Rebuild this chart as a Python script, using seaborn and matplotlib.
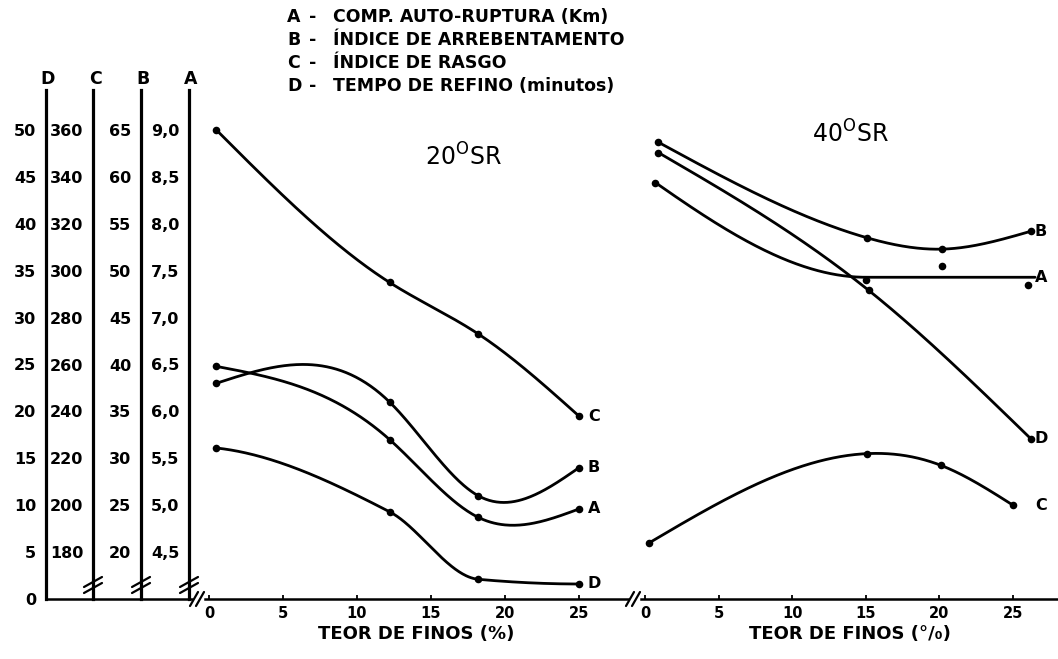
import numpy as np
import matplotlib
matplotlib.use("Agg")
import matplotlib.pyplot as plt
from matplotlib.lines import Line2D
import seaborn as sns

# ---------------- data ----------------
axis_letters = ["D", "C", "B", "A"]
D_ticks = [0, 5, 10, 15, 20, 25, 30, 35, 40, 45, 50]
C_ticks = [180, 200, 220, 240, 260, 280, 300, 320, 340, 360]
B_ticks = [20, 25, 30, 35, 40, 45, 50, 55, 60, 65]
A_ticks = [4.5, 5.0, 5.5, 6.0, 6.5, 7.0, 7.5, 8.0, 8.5, 9.0]
x_ticks = [0, 5, 10, 15, 20, 25]

legend_letters = ["A", "B", "C", "D"]
legend_texts = ["COMP. AUTO-RUPTURA (Km)", "ÍNDICE DE ARREBENTAMENTO",
                "ÍNDICE DE RASGO", "TEMPO DE REFINO (minutos)"]
panel_titles = [r"20$^{\mathrm{O}}$SR", r"40$^{\mathrm{O}}$SR"]
xlabels = ["TEOR DE FINOS (%)", "TEOR DE FINOS (°/₀)"]

# 20 °SR
x20 = [0.5, 12.2, 18.2, 25.0]
A20 = [6.48, 5.70, 4.87, 4.96]
B20 = [38.0, 36.0, 26.0, 29.0]
C20 = [360, 295, 273, 238]
D20 = [16.1, 9.3, 2.1, 1.6]

# 40 °SR
xA40 = [0.7, 15.0, 20.2, 26.0]
A40 = [8.44, 7.40, 7.55, 7.35]
xA40_fit = [0.7, 15.0, 26.5]
A40_fit = [8.44, 7.43, 7.43]
xB40 = [0.9, 15.1, 20.2, 26.2]
B40 = [63.7, 53.5, 52.3, 54.2]
xC40 = [0.3, 15.1, 20.1, 25.0]
C40 = [184, 222, 217, 200]
xD40 = [0.9, 15.2, 26.2]
D40 = [47.6, 32.9, 17.1]

# ---------------- style / layout ----------------
sns.set_theme(style="white")
plt.rcParams["font.family"] = ["DejaVu Sans"]
plt.rcParams["mathtext.fontset"] = "dejavusans"

W, H = 1058, 659
fig = plt.figure(figsize=(W / 100, H / 100), dpi=100)
fig.patch.set_facecolor("white")

def fx(px):
    return px / W

def fy(py):
    return 1 - py / H

Y_BOT, Y_TOP, Y_50 = 599, 90, 130
D_TOP = 50 * (Y_BOT - Y_TOP) / (Y_BOT - Y_50)
bottom = fy(Y_BOT)
height = (Y_BOT - Y_TOP) / H

def scale_lim(ticks):
    slope = (ticks[-1] - ticks[0]) / 45.0
    off = ticks[0] - slope * 5.0
    return off, off + slope * D_TOP

LIMS = {"D": (0, D_TOP), "C": scale_lim(C_ticks), "B": scale_lim(B_ticks), "A": scale_lim(A_ticks)}

AX_LW = 2.3
BOLD = dict(fontweight="bold", color="black")

def fmt_A(v):
    return f"{v:.1f}".replace(".", ",")

# ---- left stacked axes ----
axis_px = {"D": 46, "C": 93, "B": 141, "A": 189}
tick_sets = {"D": D_ticks, "C": C_ticks, "B": B_ticks, "A": A_ticks}

ax_D = fig.add_axes([fx(axis_px["D"]), bottom, fx(192) - fx(axis_px["D"]), height])
for name in ["D", "C", "B", "A"]:
    if name == "D":
        a = ax_D
    else:
        a = fig.add_axes([fx(axis_px[name]), bottom, 0.0005, height])
        a.spines["bottom"].set_visible(False)
    a.set_facecolor("none")
    a.set_ylim(*LIMS[name])
    a.set_xticks([])
    for s in ["top", "right"]:
        a.spines[s].set_visible(False)
    a.spines["left"].set_linewidth(AX_LW)
    a.spines["left"].set_color("black")
    if name == "D":
        a.spines["bottom"].set_linewidth(1.8)
        a.spines["bottom"].set_color("black")
    ticks = tick_sets[name]
    a.set_yticks(ticks)
    labels = [fmt_A(t) for t in ticks] if name == "A" else [str(t) for t in ticks]
    a.set_yticklabels(labels, fontsize=11.5, fontweight="bold")
    a.tick_params(axis="y", direction="out", length=4, width=1.4, pad=3, colors="black")
    fig.text(fx(axis_px[name] + 2), fy(79), name, ha="center", va="center", fontsize=12.5, **BOLD)

def fig_line(xs, ys, lw=1.6):
    fig.add_artist(Line2D([fx(v) for v in xs], [fy(v) for v in ys], transform=fig.transFigure,
                          color="black", lw=lw, solid_capstyle="round"))

# break marks on C, B, A axes
for name in ["C", "B", "A"]:
    cx = axis_px[name]
    for dy in (-3, 3):
        fig_line([cx - 9, cx + 9], [585 + dy + 5, 585 + dy - 5])
# break marks on the bottom line
for bx in (197, 633):
    for dx in (-3, 3):
        fig_line([bx + dx - 4, bx + dx + 4], [Y_BOT + 7, Y_BOT - 7])

# ---- curve helpers ----
def nat_spline(x, y, num=300):
    x = np.asarray(x, float); y = np.asarray(y, float)
    n = len(x); h = np.diff(x)
    A = np.zeros((n, n)); r = np.zeros(n)
    A[0, 0] = 1; A[-1, -1] = 1
    for i in range(1, n - 1):
        A[i, i - 1] = h[i - 1]; A[i, i] = 2 * (h[i - 1] + h[i]); A[i, i + 1] = h[i]
        r[i] = 6 * ((y[i + 1] - y[i]) / h[i] - (y[i] - y[i - 1]) / h[i - 1])
    M = np.linalg.solve(A, r)
    xx = np.linspace(x[0], x[-1], num)
    idx = np.clip(np.searchsorted(x, xx) - 1, 0, n - 2)
    hi = h[idx]; t1 = x[idx + 1] - xx; t0 = xx - x[idx]
    yy = (M[idx] * t1 ** 3 + M[idx + 1] * t0 ** 3) / (6 * hi) \
        + (y[idx] / hi - M[idx] * hi / 6) * t1 + (y[idx + 1] / hi - M[idx + 1] * hi / 6) * t0
    return xx, yy

def pchip(x, y, num=300):
    x = np.asarray(x, float); y = np.asarray(y, float)
    n = len(x); h = np.diff(x); d = np.diff(y) / h
    m = np.zeros(n)
    for k in range(1, n - 1):
        if d[k - 1] * d[k] > 0:
            w1 = 2 * h[k] + h[k - 1]; w2 = h[k] + 2 * h[k - 1]
            m[k] = (w1 + w2) / (w1 / d[k - 1] + w2 / d[k])
    def end(h0, h1, d0, d1):
        mm = ((2 * h0 + h1) * d0 - h0 * d1) / (h0 + h1)
        if np.sign(mm) != np.sign(d0):
            mm = 0.0
        elif np.sign(d0) != np.sign(d1) and abs(mm) > abs(3 * d0):
            mm = 3 * d0
        return mm
    m[0] = end(h[0], h[1], d[0], d[1])
    m[-1] = end(h[-1], h[-2], d[-1], d[-2])
    xx = np.linspace(x[0], x[-1], num)
    idx = np.clip(np.searchsorted(x, xx) - 1, 0, n - 2)
    t = (xx - x[idx]) / h[idx]
    h00 = 2 * t ** 3 - 3 * t ** 2 + 1; h10 = t ** 3 - 2 * t ** 2 + t
    h01 = -2 * t ** 3 + 3 * t ** 2; h11 = t ** 3 - t ** 2
    yy = h00 * y[idx] + h10 * h[idx] * m[idx] + h01 * y[idx + 1] + h11 * h[idx] * m[idx + 1]
    return xx, yy

def draw_series(ax, xs, ys, curve_x=None, curve_y=None, method="spline"):
    cx = xs if curve_x is None else curve_x
    cy = ys if curve_y is None else curve_y
    fn = nat_spline if method == "spline" else pchip
    xx, yy = fn(cx, cy)
    sns.lineplot(x=xx, y=yy, ax=ax, color="black", lw=2.0, estimator=None, sort=False, legend=False)
    sns.scatterplot(x=xs, y=ys, ax=ax, color="black", s=30, linewidth=0, zorder=5, legend=False)

# ---- panels ----
panels = [
    dict(left=205, right=628, x0=209, ppu=14.8, lab_x=26.0, title_xy=(463, 157), xlabel=xlabels[0],
         title=panel_titles[0],
         series=[("C", x20, C20, None, None, "spline"), ("B", x20, B20, None, None, "spline"),
                 ("A", x20, A20, None, None, "spline"), ("D", x20, D20, None, None, "pchip")]),
    dict(left=641, right=1058, x0=645, ppu=14.72, lab_x=26.9, title_xy=(850, 134), xlabel=xlabels[1],
         title=panel_titles[1],
         series=[("B", xB40, B40, None, None, "spline"), ("A", xA40, A40, xA40_fit, A40_fit, "pchip"),
                 ("D", xD40, D40, None, None, "spline"), ("C", xC40, C40, None, None, "spline")]),
]

for p in panels:
    ax = fig.add_axes([fx(p["left"]), bottom, fx(p["right"]) - fx(p["left"]), height])
    ax.set_facecolor("none")
    ax.set_xlim((p["left"] - p["x0"]) / p["ppu"], (p["right"] - p["x0"]) / p["ppu"])
    ax.set_ylim(*LIMS["D"])
    for s in ["top", "right", "left"]:
        ax.spines[s].set_visible(False)
    ax.spines["bottom"].set_linewidth(1.8)
    ax.spines["bottom"].set_color("black")
    ax.set_yticks([])
    twins = {"D": ax}
    for name in ["A", "B", "C"]:
        t = ax.twinx()
        t.set_ylim(*LIMS[name])
        t.axis("off")
        twins[name] = t
    for name, xs, ys, cxs, cys, method in p["series"]:
        a = twins[name]
        draw_series(a, xs, ys, cxs, cys, method)
        a.set_ylim(*LIMS[name])
        a.set_xlim((p["left"] - p["x0"]) / p["ppu"], (p["right"] - p["x0"]) / p["ppu"])
        ly = ys[-1] if cys is None else cys[-1]
        a.text(p["lab_x"], ly, name, ha="center", va="center", fontsize=11.5, clip_on=False, **BOLD)
    ax.set_xticks(x_ticks)
    ax.set_xticklabels([str(v) for v in x_ticks], fontsize=10.5, fontweight="bold")
    ax.tick_params(axis="x", direction="in", length=3, width=1.3, pad=5, colors="black", bottom=True)
    ax.set_xlabel(p["xlabel"], fontsize=13, fontweight="bold", color="black", labelpad=3)
    ax.set_ylabel("")
    tx, ty = p["title_xy"]
    fig.text(fx(tx), fy(ty), p["title"], ha="center", va="center", fontsize=17, color="black")

# ---- legend block ----
leg_y = [17, 40, 63, 86]
for L, txt, yy in zip(legend_letters, legend_texts, leg_y):
    fig.text(fx(287), fy(yy), L, ha="left", va="center", fontsize=12.5, **BOLD)
    fig.text(fx(309), fy(yy), "-", ha="left", va="center", fontsize=12.5, **BOLD)
    fig.text(fx(333), fy(yy), txt, ha="left", va="center", fontsize=12.5, **BOLD)

fig.savefig("out.png", dpi=100, facecolor="white")
